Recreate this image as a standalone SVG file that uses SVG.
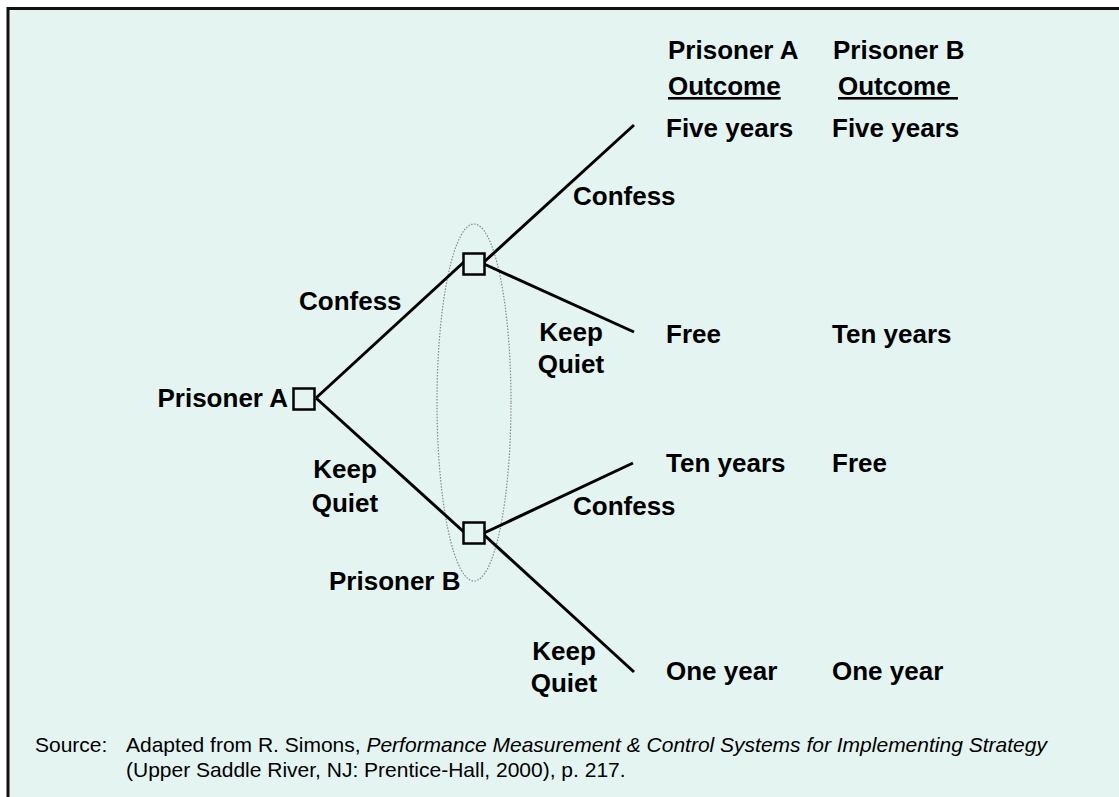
<svg xmlns="http://www.w3.org/2000/svg" width="1119" height="797" viewBox="0 0 1119 797">
  <style>
    .lbl { font-family: "Liberation Sans", Arial, sans-serif; font-weight: bold; font-size: 26px; fill: #000; }
    .src { font-family: "Liberation Sans", Arial, sans-serif; font-size: 21px; fill: #000; }
    .edge { stroke: #000; stroke-width: 3; fill: none; }
    .box { fill: #e4f5f1; stroke: #000; stroke-width: 2.5; }
    .info { fill: none; stroke: #888; stroke-width: 1.2; stroke-dasharray: 1.5 1.5; }
  </style>
  <!-- slide panel -->
  <rect x="8" y="8.5" width="1130" height="800" fill="#e4f5f1" stroke="#111" stroke-width="3"/>

  <!-- information set of Prisoner B -->
  <ellipse class="info" cx="474" cy="402.5" rx="37" ry="178.5"/>

  <g id="connectors">
    <line class="edge" x1="316" y1="398" x2="465" y2="261"/>
    <line class="edge" x1="316" y1="398" x2="465" y2="533"/>
    <line class="edge" x1="484" y1="262" x2="634" y2="125"/>
    <line class="edge" x1="484" y1="264" x2="634" y2="332"/>
    <line class="edge" x1="484" y1="533" x2="633" y2="463"/>
    <line class="edge" x1="482" y1="533" x2="634" y2="672"/>
  </g>

  <g id="prisoner-a">
    <rect class="box" x="293.5" y="388.5" width="21" height="21"/>
    <text class="lbl" x="288" y="407" text-anchor="end">Prisoner A</text>
  </g>
  <g id="prisoner-b-upper">
    <rect class="box" x="463.5" y="253.5" width="21" height="21"/>
  </g>
  <g id="prisoner-b-lower">
    <rect class="box" x="463.5" y="522.5" width="21" height="21"/>
    <text class="lbl" x="329" y="590">Prisoner B</text>
  </g>

  <g id="edge-labels">
    <text class="lbl" x="299" y="310">Confess</text>
    <text class="lbl" x="345" y="478" text-anchor="middle">Keep</text>
    <text class="lbl" x="345" y="512" text-anchor="middle">Quiet</text>
    <text class="lbl" x="573" y="205">Confess</text>
    <text class="lbl" x="571" y="341" text-anchor="middle">Keep</text>
    <text class="lbl" x="571" y="373" text-anchor="middle">Quiet</text>
    <text class="lbl" x="573" y="515">Confess</text>
    <text class="lbl" x="564" y="660" text-anchor="middle">Keep</text>
    <text class="lbl" x="564" y="692" text-anchor="middle">Quiet</text>
  </g>

  <g id="outcomes">
    <text class="lbl" x="668" y="59">Prisoner A</text>
    <text class="lbl" x="668" y="95" text-decoration="underline">Outcome</text>
    <text class="lbl" x="833" y="59">Prisoner B</text>
    <text class="lbl" x="838" y="95" text-decoration="underline" xml:space="preserve">Outcome </text>
    <text class="lbl" x="666" y="137">Five years</text>
    <text class="lbl" x="832" y="137">Five years</text>
    <text class="lbl" x="666" y="343">Free</text>
    <text class="lbl" x="832" y="343">Ten years</text>
    <text class="lbl" x="666" y="472">Ten years</text>
    <text class="lbl" x="832" y="472">Free</text>
    <text class="lbl" x="666" y="680">One year</text>
    <text class="lbl" x="832" y="680">One year</text>
  </g>

  <g id="source-note">
    <text class="src" x="35" y="752">Source:</text>
    <text class="src" x="126" y="752">Adapted from R. Simons, <tspan font-style="italic">Performance Measurement &amp; Control Systems for Implementing Strategy</tspan></text>
    <text class="src" x="126" y="777">(Upper Saddle River, NJ: Prentice-Hall, 2000), p. 217.</text>
  </g>
</svg>
